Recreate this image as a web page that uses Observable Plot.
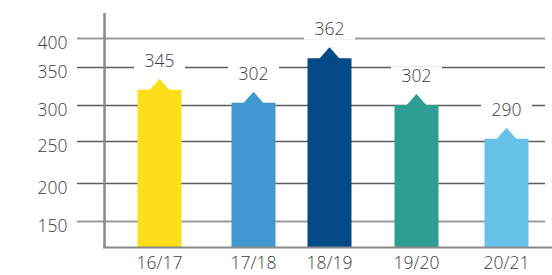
<!DOCTYPE html>
<html><head><meta charset="utf-8">
<script src="https://cdn.jsdelivr.net/npm/d3@7"></script>
<script src="https://cdn.jsdelivr.net/npm/@observablehq/plot@0.6"></script>
<style>body{margin:0;background:#fff} svg{display:block}</style>
</head><body><div id="chart"></div>
<script>
const seasons = ["16/17", "17/18", "18/19", "19/20", "20/21"];
const values = [345, 302, 362, 302, 290];
// bar shoulder heights as drawn against the (not-to-scale) axis
const barLevels = [320, 303, 365, 300, 253];
const barColors = ["#FEDD1B", "#4299D1", "#034A87", "#2F9E92", "#66C2E8"];
const yTicks = [150, 200, 250, 300, 350, 400];

const idx = seasons.map((_, i) => i);
const yMin = 116, yMax = 443;

const roof = {draw(ctx) { ctx.moveTo(-11.5, 1.5); ctx.lineTo(0, -11.5); ctx.lineTo(11.5, 1.5); ctx.closePath(); }};
const box = {draw(ctx) { ctx.rect(-25.5, -10, 51, 20); }};

const chart = Plot.plot({
  width: 552, height: 275,
  marginLeft: 104, marginRight: 0, marginTop: 13, marginBottom: 28,
  x: {type: "linear", domain: [-1, 0, 1, 2, 3, 4, 5], range: [104, 159, 253, 329, 416, 506, 552], axis: null},
  y: {type: "linear", domain: [yMin, 150, 200, 250, 300, 350, 400, yMax], range: [247, 221, 183, 141, 105, 67, 38, 13], axis: null},
  color: {type: "identity"},
  style: {fontFamily: "'Open Sans', sans-serif", fontSize: "17.5px", fontWeight: 300, color: "#3d3d3d", background: "white"},
  marks: [
    Plot.ruleY(yTicks.filter(t => t !== 150 && t !== 400), {stroke: "#5c5c5c", strokeWidth: 1.3, insetLeft: -27, insetRight: 7}),
    Plot.ruleY([150, 400], {stroke: "#9a9a9a", strokeWidth: 2, insetLeft: -27, insetRight: 7}),
    Plot.ruleX(idx, {x: i => i, y1: yMin, y2: i => barLevels[i], stroke: i => barColors[i], strokeWidth: 44}),
    Plot.dot(idx, {x: i => i, y: i => barLevels[i], symbol: roof, fill: i => barColors[i]}),
    Plot.ruleY([yMin], {stroke: "#8a8a8a", strokeWidth: 2.2, insetLeft: -1}),
    Plot.ruleX([-1], {y1: yMin, y2: yMax, stroke: "#8a8a8a", strokeWidth: 2.5}),
    Plot.dot(idx, {x: i => i, y: i => barLevels[i], dy: -29, symbol: box, fill: "white"}),
    Plot.text(idx, {x: i => i, y: i => barLevels[i], dy: -29, text: i => String(values[i]), fill: "#3d3d3d"}),
    Plot.text(yTicks, {y: d => d, frameAnchor: "left", dx: -37, dy: 5, textAnchor: "end", text: d => String(d), fill: "#3d3d3d"}),
    Plot.text(idx, {x: i => i, frameAnchor: "bottom", dy: 21, text: i => seasons[i], fill: "#3d3d3d"})
  ]
});
document.getElementById("chart").appendChild(chart);
</script>
</body></html>
